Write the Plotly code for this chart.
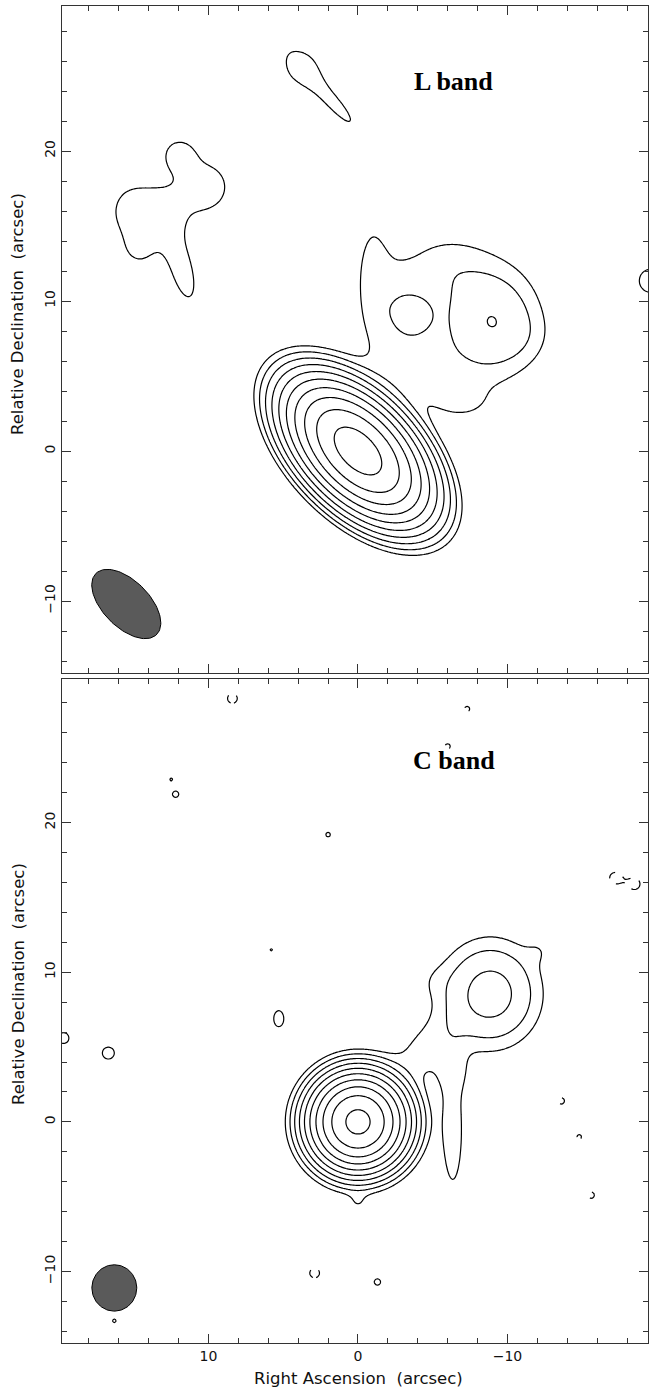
import numpy as np
import plotly.graph_objects as go

# ---------------- axis extents (arcsec) ----------------
RA_RANGE = [19.8, -19.4]
DEC_RANGE_L = [-14.8, 29.67]
DEC_RANGE_C = [-14.78, 29.6]

# contour levels in units of the lowest contour (factor 2 apart)
LEVELS = [1, 2, 4, 8, 16, 32, 64, 128, 256, 512]
NEG_LEVELS = [-1]

# ---------------- L band model components ----------------
# RA offset, Dec offset, peak (units of lowest contour), sigma major, sigma minor (arcsec), PA (deg)
L_ra   = [0.0, -9.0, -11.2, -5.2, -3.6, -1.0, -2.4, -3.5, -7.0, -6.0,
          10.3, 12.0, 15.0, 11.8, 12.9, 14.6,
          3.8, 1.8, -19.6]
L_dec  = [0.0, 8.65, 7.6, 8.5, 9.05, 11.6, 10.6, 5.3, 3.2, 12.3,
          17.6, 19.8, 16.0, 12.2, 15.8, 13.3,
          25.6, 23.4, 11.35]
L_peak = [722, 3.45, 0.4, 0.75, 2.0, 1.3, 0.6, 1.0, 0.8, 1.0,
          1.45, 1.3, 1.4, 1.4, 0.7, 0.9,
          1.15, 1.3, 1.6]
L_smaj = [2.37, 2.2, 1.2, 4.4, 1.0, 2.6, 2.0, 2.2, 1.6, 2.0,
          1.6, 0.85, 1.6, 2.4, 1.2, 1.0,
          1.1, 2.6, 0.8]
L_smin = [1.32, 1.9, 1.2, 4.0, 1.0, 0.7, 1.0, 1.6, 1.0, 1.5,
          1.6, 0.85, 1.4, 0.8, 1.2, 1.0,
          1.1, 0.55, 0.8]
L_pa   = [45, 0, 0, 90, 30, 0, 0, 90, 90, 90,
          0, 0, 0, 15, 0, 0,
          0, 42, 0]

# ---------------- C band model components ----------------
C_ra   = [0.0, 0.0, -8.85, -4.6, -6.35, -6.4, -12.2, -5.0, 0.0,
          12.2, 12.5, 2.0, 5.8, 5.3, 16.7, 19.7, -1.3, 16.3,
          8.4, -7.3, -6.0, -17.2, -18.5, -13.6, -14.8, -15.6, 2.9]
C_dec  = [0.0, 0.0, 8.55, 5.0, -0.6, 3.3, 11.5, 9.4, -5.4,
          21.9, 22.9, 19.2, 11.5, 6.9, 4.6, 5.6, -10.7, -13.3,
          28.3, 27.6, 25.1, 16.3, 15.9, 1.4, -1.0, -4.9, -10.1]
C_peak = [616, 2.2, 5.2, 1.2, 1.4, 0.6, 0.55, 0.45, 0.7,
          1.15, 1.03, 1.1, 1.04, 1.3, 1.3, 1.3, 1.15, 1.08,
          -1.3, -1.1, -1.1, -1.3, -1.3, -1.15, -1.1, -1.15, -1.3]
C_smaj = [1.316, 2.5, 2.1, 2.0, 3.8, 1.0, 0.7, 0.9, 0.5,
          0.4, 0.25, 0.35, 0.3, 0.73, 0.55, 0.5, 0.4, 0.3,
          0.45, 0.4, 0.4, 0.5, 0.5, 0.4, 0.35, 0.4, 0.45]
C_smin = [1.316, 2.5, 1.95, 1.2, 0.65, 1.0, 0.7, 0.9, 0.5,
          0.4, 0.25, 0.35, 0.3, 0.46, 0.55, 0.5, 0.4, 0.3,
          0.45, 0.4, 0.4, 0.5, 0.5, 0.4, 0.35, 0.4, 0.45]
C_pa   = [0, 0, 0, -45, 0, 0, 0, 0, 0,
          0, 0, 0, 0, 0, 0, 0, 0, 0,
          0, 0, 0, 0, 0, 0, 0, 0, 0]

# ---------------- restoring beams ----------------
BEAM_L = dict(ra=15.5, dec=-10.2, bmaj=5.75, bmin=3.1, pa=45)
BEAM_C = dict(ra=16.3, dec=-11.1, bmaj=3.1, bmin=3.0, pa=0)

# ---------------- grid ----------------
ra_grid = np.round(np.arange(-19.7, 20.01, 0.1), 2)
dec_grid = np.round(np.arange(-15.1, 30.01, 0.1), 2)
RA, DEC = np.meshgrid(ra_grid, dec_grid)


def model(ra0, dec0, peak, smaj, smin, pa):
    z = np.zeros_like(RA)
    for a, d, p, sj, sn, ang in zip(ra0, dec0, peak, smaj, smin, pa):
        t = np.deg2rad(ang)
        dx = RA - a
        dy = DEC - d
        u = dx * np.sin(t) + dy * np.cos(t)
        v = dx * np.cos(t) - dy * np.sin(t)
        z += p * np.exp(-0.5 * ((u / sj) ** 2 + (v / sn) ** 2))
    return z


def beam_outline(b, n=120):
    t = np.linspace(0, 2 * np.pi, n)
    pa = np.deg2rad(b["pa"])
    a = b["bmaj"] / 2
    c = b["bmin"] / 2
    u = a * np.cos(t)
    v = c * np.sin(t)
    x = b["ra"] + u * np.sin(pa) + v * np.cos(pa)
    y = b["dec"] + u * np.cos(pa) - v * np.sin(pa)
    return x, y


ZL = model(L_ra, L_dec, L_peak, L_smaj, L_smin, L_pa)
ZC = model(C_ra, C_dec, C_peak, C_smaj, C_smin, C_pa)

lvl0 = np.log2(LEVELS[0])
lvlN = np.log2(LEVELS[-1])
FLOOR = 2.0 ** -6


def pos_field(z):
    return np.round(np.log2(np.clip(z, FLOOR, None)), 3)


def neg_field(z):
    return np.round(np.log2(np.clip(-z / abs(NEG_LEVELS[0]), FLOOR, None)), 3)


fig = go.Figure()

for z, xa, ya in [(ZL, "x", "y"), (ZC, "x2", "y2")]:
    fig.add_trace(go.Contour(
        x=ra_grid, y=dec_grid, z=pos_field(z),
        autocontour=False,
        contours=dict(start=lvl0, end=lvlN, size=1, coloring="none"),
        line=dict(color="black", width=1.2, smoothing=0.8),
        showscale=False, hoverinfo="skip", xaxis=xa, yaxis=ya,
    ))
    if (z < 0).any():
        fig.add_trace(go.Contour(
            x=ra_grid, y=dec_grid, z=neg_field(z),
            autocontour=False,
            contours=dict(start=0, end=lvlN, size=1, coloring="none"),
            line=dict(color="black", width=1.2, dash="dash", smoothing=0.8),
            showscale=False, hoverinfo="skip", xaxis=xa, yaxis=ya,
        ))

for b, xa, ya in [(BEAM_L, "x", "y"), (BEAM_C, "x2", "y2")]:
    bx, by = beam_outline(b)
    fig.add_trace(go.Scatter(
        x=bx, y=by, mode="lines", fill="toself",
        fillcolor="#5a5a5a", line=dict(color="black", width=1),
        hoverinfo="skip", showlegend=False, xaxis=xa, yaxis=ya,
    ))

W, H = 650, 1390
xdom = [62 / W, 648 / W]
ydom_top = [1 - 673 / H, 1 - 6 / H]
ydom_bot = [1 - 1343 / H, 1 - 679 / H]

TICKFONT = dict(family="DejaVu Sans", size=14, color="#111")
axcommon = dict(
    showgrid=False, zeroline=False, showline=True, linecolor="#333", linewidth=1,
    ticks="inside", ticklen=9, tickwidth=1, tickcolor="#333", mirror="allticks",
    tick0=0, dtick=10, tickfont=TICKFONT,
    minor=dict(ticks="inside", ticklen=5, tickwidth=1, tickcolor="#333", dtick=2, tick0=0),
)

fig.update_layout(
    width=W, height=H, margin=dict(l=0, r=0, t=0, b=0),
    paper_bgcolor="white", plot_bgcolor="white", showlegend=False,
    xaxis=dict(domain=xdom, range=RA_RANGE, anchor="y", showticklabels=False, **axcommon),
    yaxis=dict(domain=ydom_top, range=DEC_RANGE_L, anchor="x", tickangle=-90, **axcommon),
    xaxis2=dict(domain=xdom, range=RA_RANGE, anchor="y2", showticklabels=True, **axcommon),
    yaxis2=dict(domain=ydom_bot, range=DEC_RANGE_C, anchor="x2", tickangle=-90, **axcommon),
)

LABELFONT = dict(family="DejaVu Sans", size=16.5, color="#111")
annots = [
    dict(text="Right Ascension\u00a0\u00a0(arcsec)", x=358 / W, y=1 - 1378 / H,
         font=LABELFONT, textangle=0),
    dict(text="Relative Declination\u00a0\u00a0(arcsec)", x=18 / W, y=1 - 314 / H,
         font=LABELFONT, textangle=-90),
    dict(text="Relative Declination\u00a0\u00a0(arcsec)", x=18 / W, y=1 - 984 / H,
         font=LABELFONT, textangle=-90),
    dict(text="<b>L band</b>", x=453 / W, y=1 - 82 / H,
         font=dict(family="Liberation Serif", size=26, color="black")),
    dict(text="<b>C band</b>", x=454 / W, y=1 - 760 / H,
         font=dict(family="Liberation Serif", size=26, color="black")),
]
for a in annots:
    fig.add_annotation(xref="paper", yref="paper", showarrow=False,
                       xanchor="center", yanchor="middle", **a)

fig.write_html("out.html")
